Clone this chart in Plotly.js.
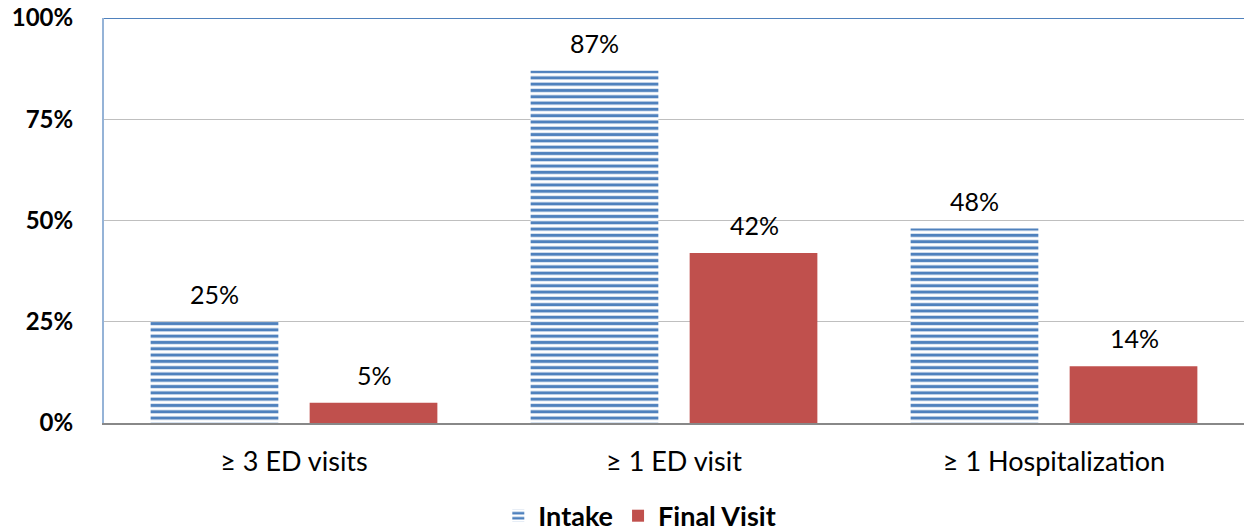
<!DOCTYPE html>
<html>
<head>
<meta charset="utf-8">
<script src="https://cdn.plot.ly/plotly-3.0.1.min.js"></script>
<style>html,body{margin:0;padding:0;background:#fff;}#chart{width:1244px;height:531px;}</style>
</head>
<body>
<div id="chart"></div>
<script>
const categories = ["≥ 3 ED visits", "≥ 1 ED visit", "≥ 1 Hospitalization"];
const intakeValues = [25, 87, 48];
const finalValues = [5, 42, 14];
const intakeLabels = ["25%", "87%", "48%"];
const finalLabels = ["5%", "42%", "14%"];
const yTickVals = [0, 25, 50, 75, 100];
const yTickText = ["0%", "25%", "50%", "75%", "100%"];

const font = "Lato, 'Open Sans', 'DejaVu Sans', sans-serif";

const traces = [
  {
    type: "bar", name: "Intake", x: categories, y: intakeValues,
    marker: {color: "#ffffff", line: {width: 0},
      pattern: {shape: "-", fgcolor: "#4f81bd", bgcolor: "#ffffff", size: 6.3, solidity: 0.5}},
    hoverinfo: "skip"
  },
  {
    type: "bar", name: "Final Visit", x: categories, y: finalValues,
    marker: {color: "#c0504d", line: {width: 0}},
    hoverinfo: "skip"
  }
];

const annotations = [];
categories.forEach((c, i) => {
  annotations.push({x: c, y: intakeValues[i], xref: "x", yref: "y", text: intakeLabels[i],
    showarrow: false, yanchor: "bottom", xshift: -80, yshift: 11,
    font: {size: 25, family: font, color: "#000"}});
  annotations.push({x: c, y: finalValues[i], xref: "x", yref: "y", text: finalLabels[i],
    showarrow: false, yanchor: "bottom", xshift: 80, yshift: 11,
    font: {size: 25, family: font, color: "#000"}});
});

const layout = {
  width: 1244, height: 531,
  margin: {l: 104, r: 0, t: 18, b: 108, autoexpand: false},
  paper_bgcolor: "#fff", plot_bgcolor: "#fff",
  barmode: "group", bargap: 0.163, bargroupgap: 0.197,
  showlegend: true,
  legend: {orientation: "h", x: 0.47, xanchor: "center", y: -0.23, yanchor: "middle",
    font: {size: 27, family: font, color: "#000", weight: "bold"}, itemwidth: 30, traceorder: "normal"},
  xaxis: {
    tickfont: {size: 27, family: font, color: "#000"}, automargin: false,
    showline: true, linecolor: "#888888", linewidth: 1.5,
    ticks: "", showgrid: false, fixedrange: true, ticklabelstandoff: 14
  },
  yaxis: {
    range: [0, 100], tickvals: yTickVals, ticktext: yTickText, automargin: false,
    tickfont: {size: 24, family: font, color: "#000", weight: "bold"},
    showgrid: true, gridcolor: "#bfbfbf", gridwidth: 1.2,
    showline: true, linecolor: "#95b3d7", linewidth: 2,
    zeroline: false, ticks: "", ticklen: 0, fixedrange: true, ticklabelstandoff: 24
  },
  annotations: annotations,
  shapes: [
    {type: "line", xref: "paper", yref: "y", x0: 0, x1: 1, y0: 100, y1: 100,
     line: {color: "#4f81bd", width: 2}}
  ]
};

Plotly.newPlot("chart", traces, layout, {displayModeBar: false, staticPlot: true});
</script>
</body>
</html>
